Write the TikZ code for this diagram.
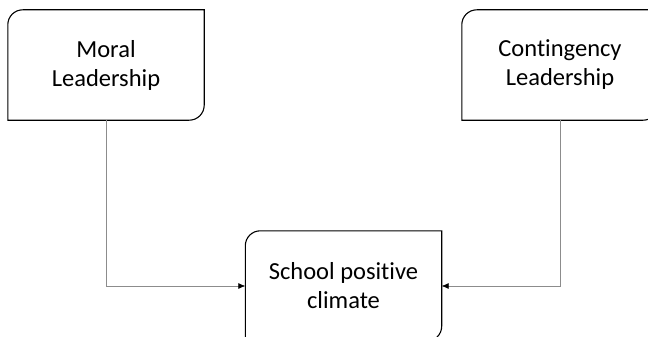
\documentclass[tikz,border=0pt]{standalone}
\usepackage{fontspec}
\setmainfont[Ligatures=NoCommon]{Carlito}
\usetikzlibrary{arrows.meta}
\tikzset{
  caja/.style={minimum width=196pt, minimum height=110pt, inner sep=0pt,
    align=center, font=\fontsize{24.5}{29}\selectfont},
  borde/.style={line width=1.1pt, black},
  flecha/.style={draw=black!45, line width=0.6pt,
    -{Latex[length=7pt,width=6pt,color=black]}}
}
\newcommand{\bordecaja}[1]{%
  \draw[borde] (#1.west) [rounded corners=15pt] -- (#1.north west) [sharp corners]
    -- (#1.north east) -- (#1.east) [rounded corners=15pt] -- (#1.south east)
    [sharp corners] -- (#1.south west) -- cycle;}
\begin{document}
\begin{tikzpicture}[x=1pt,y=-1pt]
    \useasboundingbox (0,0) rectangle (648,337);
    \begin{scope}
        \clip (0,0) rectangle (648,337);

        % Cajas
        \node[caja] (moral) at (106,65) {Moral\\Leadership};
        \node[caja] (conting) at (560,65) {Contingency\\Leadership};
        \node[caja] (clima) at (343.5,286) {School positive\\climate};
        \bordecaja{moral}
        \bordecaja{conting}
        \bordecaja{clima}

        % Conectores
        \draw[flecha] (moral.south) |- (clima.west);
        \draw[flecha] (conting.south) |- (clima.east);
    \end{scope}
\end{tikzpicture}
\end{document}
